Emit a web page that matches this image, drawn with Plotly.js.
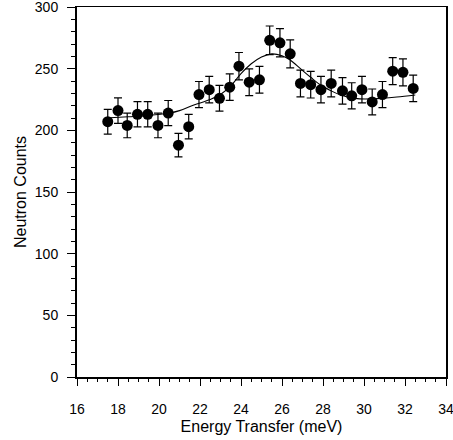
<!DOCTYPE html>
<html>
<head>
<meta charset="utf-8">
<script src="https://cdn.plot.ly/plotly-3.0.1.min.js"></script>
<style>html,body{margin:0;padding:0;background:#fff;}#chart{width:453px;height:440px;}</style>
</head>
<body>
<div id="chart"></div>
<script>
const energy = [17.5, 18.0, 18.45, 18.95, 19.45, 19.95, 20.45, 20.95, 21.45, 21.95, 22.45, 22.95, 23.45, 23.9, 24.4, 24.9, 25.4, 25.9, 26.4, 26.9, 27.4, 27.9, 28.4, 28.95, 29.4, 29.9, 30.4, 30.9, 31.4, 31.9, 32.4];
const counts = [207, 216, 204, 213, 213, 204, 214, 188, 203, 229, 233, 226, 235, 252, 239, 241, 273, 271, 262, 238, 237, 233, 238, 232, 228, 233, 223, 229, 248, 247, 234];
const errors = [10, 10.3, 10, 10.2, 10.2, 10, 10.2, 9.6, 10, 10.6, 10.7, 10.5, 10.7, 11.1, 10.8, 10.9, 11.6, 11.5, 11.3, 10.8, 10.8, 10.7, 10.8, 10.7, 10.6, 10.7, 10.5, 10.6, 11, 11, 10.7];
const fitX = [17.4, 18.5, 19.5, 20.5, 21.0, 21.7, 22.5, 23.0, 23.5, 24.0, 24.5, 25.0, 25.5, 26.0, 26.4, 26.9, 27.4, 27.9, 28.4, 28.8, 29.3, 29.8, 30.4, 30.9, 31.6, 32.5];
const fitY = [210, 211, 212, 214, 216, 220.5, 225, 229, 236, 246, 254, 259.5, 262, 260.5, 257, 250, 243, 236.5, 232, 229, 226.5, 225.5, 225.5, 226, 227, 228.6];
const xTicks = [16, 18, 20, 22, 24, 26, 28, 30, 32, 34];
const yTicks = [0, 50, 100, 150, 200, 250, 300];

const font = {family: 'Liberation Sans, Arial, Helvetica, sans-serif', color: '#000'};
const traces = [
  {x: fitX, y: fitY, type: 'scatter', mode: 'lines', line: {color: '#000', width: 1.1, shape: 'spline'}, hoverinfo: 'skip'},
  {x: energy, y: counts, type: 'scatter', mode: 'markers',
   marker: {color: '#000', size: 11},
   error_y: {type: 'data', array: errors, visible: true, color: '#000', thickness: 1.2, width: 4}}
];
const layout = {
  width: 453, height: 440,
  margin: {l: 77, r: 7, t: 7, b: 63},
  paper_bgcolor: '#fff', plot_bgcolor: '#fff',
  showlegend: false,
  font: Object.assign({size: 14}, font),
  xaxis: {
    range: [16, 34], tickvals: xTicks, ticktext: xTicks.map(String),
    ticks: 'outside', ticklen: 7, tickwidth: 1, tickcolor: '#000',
    minor: {dtick: 0.5, ticks: 'outside', ticklen: 3, tickcolor: '#000', tickwidth: 1},
    showline: true, linecolor: '#000', linewidth: 1.5, mirror: true,
    showgrid: false, zeroline: false,
    ticklabeloverflow: 'allow', ticklabelstandoff: 12,
    tickfont: Object.assign({size: 14}, font),
    title: {text: 'Energy Transfer (meV)', font: Object.assign({size: 16}, font), standoff: 4}
  },
  yaxis: {
    range: [0, 300], tickvals: yTicks, ticktext: yTicks.map(String),
    ticks: 'outside', ticklen: 8, tickwidth: 1, tickcolor: '#000',
    minor: {dtick: 10, ticks: 'outside', ticklen: 4, tickcolor: '#000', tickwidth: 1},
    showline: true, linecolor: '#000', linewidth: 2, mirror: true,
    showgrid: false, zeroline: false,
    ticklabeloverflow: 'allow', ticklabelstandoff: 6,
    tickfont: Object.assign({size: 14}, font),
    title: {text: 'Neutron Counts', font: Object.assign({size: 16}, font), standoff: 4}
  }
};
Plotly.newPlot('chart', traces, layout, {displayModeBar: false, staticPlot: true});
</script>
</body>
</html>
